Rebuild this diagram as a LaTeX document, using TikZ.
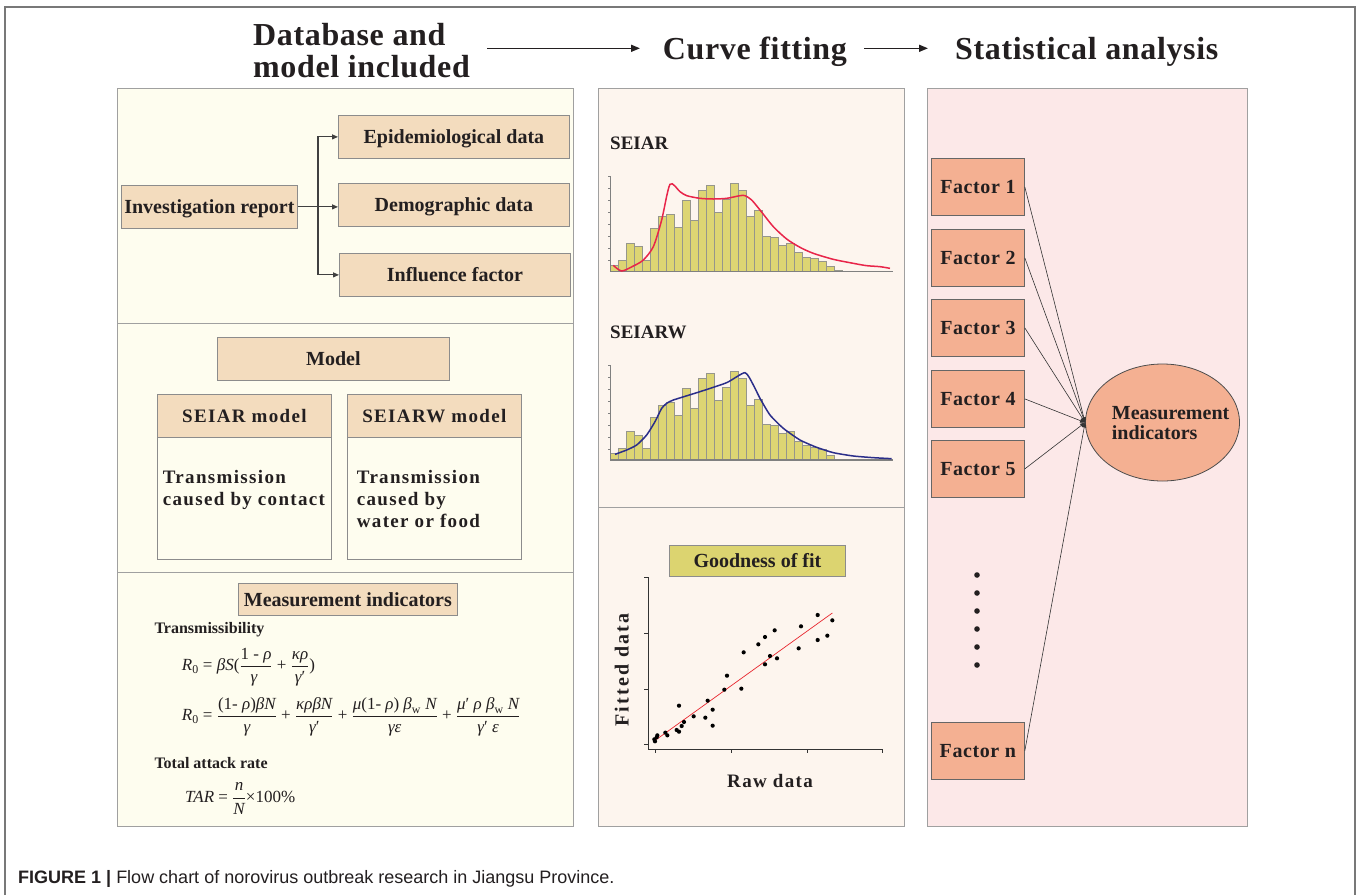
\documentclass[tikz,border=0pt]{standalone}
\usepackage{amsmath}
\usepackage{fontspec}
\setmainfont{Liberation Serif}
\newfontfamily\capfont{Liberation Sans}
\newfontfamily\ttlfont[LetterSpace=2]{Liberation Serif}
\newfontfamily\spfont[LetterSpace=7]{Liberation Serif}
\newfontfamily\fitfont[LetterSpace=11]{Liberation Serif}
\newfontfamily\fctfont[LetterSpace=3]{Liberation Serif}
\usetikzlibrary{arrows.meta,shapes.geometric}
\definecolor{txt}{RGB}{35,31,32}
\definecolor{framegray}{RGB}{120,120,120}
\definecolor{panelgray}{RGB}{160,160,160}
\definecolor{boxgray}{RGB}{140,140,140}
\definecolor{pone}{RGB}{254,253,239}
\definecolor{ptwo}{RGB}{253,245,238}
\definecolor{pthree}{RGB}{252,232,232}
\definecolor{peach}{RGB}{243,220,190}
\definecolor{factor}{RGB}{244,176,146}
\definecolor{good}{RGB}{220,212,112}
\definecolor{barfill}{RGB}{221,213,115}
\definecolor{barline}{RGB}{150,150,140}
\definecolor{curvered}{RGB}{232,37,74}
\definecolor{curveblue}{RGB}{43,46,138}
\definecolor{fitred}{RGB}{232,38,46}
\newcommand\myit[1]{\text{\itshape #1}}
\newcommand\myup[1]{\text{\upshape #1}}
\begin{document}
\begin{tikzpicture}[x=1pt,y=-1pt,
  panel/.style={draw=panelgray, line width=1pt},
  bx/.style={draw=boxgray, fill=peach, line width=0.8pt, inner sep=0pt, text=txt,
    anchor=north west, text height=13.2pt, text depth=0pt, font=\fontsize{20}{24}\selectfont\bfseries},
  bodybx/.style={draw=boxgray, fill=pone, line width=0.8pt, inner sep=0pt, anchor=north west},
  fbx/.style={draw=black!60, fill=factor, line width=0.8pt, inner sep=0pt, text=txt,
    anchor=north west, minimum width=93pt, minimum height=57pt, text height=13.2pt, text depth=0pt,
    font=\fctfont\fontsize{20}{24}\selectfont\bfseries},
  ttl/.style={inner sep=0pt, text=txt, font=\ttlfont\fontsize{32}{32}\selectfont\bfseries},
  tarr/.style={-{Triangle[length=9pt,width=7pt]}, line width=1.5pt, draw=txt},
  sarr/.style={-{Triangle[length=6pt,width=5pt]}, line width=1.1pt, draw=black!75},
  farr/.style={-{Triangle[length=5pt,width=4pt]}, line width=0.6pt, draw=black!80},
  lbl/.style={inner sep=0pt, text=txt},
  frm/.style={inner sep=0pt, text=txt, anchor=base west, font=\fontsize{17}{20}\selectfont},
  bar/.style={fill=barfill, draw=barline, line width=0.6pt},
  hax/.style={draw=black!50, line width=1.1pt},
  sax/.style={draw=black!80, line width=1pt}
]
\useasboundingbox (0,0) rectangle (1358,895);
\fill[white] (0,0) rectangle (1358,895);
% outer frame
\draw[framegray, line width=1.5pt] (5,895) -- (5,7) -- (1355,7) -- (1355,895);

% titles
\node[ttl, anchor=north west, align=left] (db) at (253,23) {Database and\\[0pt]model included};
\node[ttl, anchor=base west] (cf) at (662.7,59.3) {Curve fitting};
\node[ttl, anchor=base west] (sa) at (955,59.3) {Statistical analysis};
\coordinate (ay) at (0,48.3);
\draw[tarr, shorten <=17pt, shorten >=22.7pt] (db.east |- ay) -- (cf.west |- ay);
\draw[tarr, shorten <=17pt, shorten >=27pt] (cf.east |- ay) -- (sa.west |- ay);

% panels
\filldraw[panel, fill=pone] (117,88) rectangle (573,826);
\draw[panel] (117,323) -- (573,323);
\draw[panel] (117,572) -- (573,572);
\filldraw[panel, fill=ptwo] (598,88) rectangle (904,826);
\draw[panel] (598,507) -- (904,507);
\filldraw[panel, fill=pthree] (927,88) rectangle (1247,826);

% panel 1, section 1
\node[bx, minimum width=176pt, minimum height=43pt] (inv) at (121,185) {Investigation report};
\node[bx, minimum width=231pt, minimum height=43pt] (epi) at (338,115) {Epidemiological data};
\node[bx, minimum width=231pt, minimum height=43pt] (dem) at (338,183) {Demographic data};
\node[bx, minimum width=231pt, minimum height=43pt] (inf) at (339,253) {Influence factor};
\coordinate (jn) at (318,206.5);
\draw[sarr] (inv.east) -- (inv.east -| dem.west);
\draw[sarr] (jn) |- (epi.west);
\draw[sarr] (jn) |- (inf.west);

% panel 1, section 2
\node[bx, minimum width=232pt, minimum height=43pt] (model) at (217,337) {Model};
\node[bodybx, minimum width=174pt, minimum height=122pt] (b1) at (157,437) {};
\node[bodybx, minimum width=174pt, minimum height=122pt] (b2) at (347,437) {};
\node[bx, minimum width=174pt, minimum height=43pt, text height=12.6pt, font=\spfont\fontsize{19}{22}\selectfont\bfseries] (seiar) at (157,394) {SEIAR model};
\node[bx, minimum width=174pt, minimum height=43pt, text height=12.6pt, font=\spfont\fontsize{19}{22}\selectfont\bfseries] (seiarw) at (347,394) {SEIARW model};
\node[lbl, anchor=north west, align=left, font=\spfont\fontsize{19}{22}\selectfont\bfseries] (t1) at (162.7,470.3) {Transmission\\caused by contact};
\node[lbl, anchor=north west, align=left, font=\spfont\fontsize{19}{22}\selectfont\bfseries] (t2) at (356.7,470.3) {Transmission\\caused by\\water or food};

% panel 1, section 3
\node[bx, minimum width=219pt, minimum height=32pt] (mi) at (238,583.3) {Measurement indicators};
\node[lbl, anchor=base west, font=\fontsize{16}{19}\selectfont\bfseries] (trans) at (154.3,633.3) {Transmissibility};
\node[frm] (f1) at (181.7,670.7) {$\displaystyle \myit{R}_{\myup{0}}\myup{ = }\myit{βS}\myup{(}\frac{\myup{1 - }\myit{ρ}}{\myit{γ}\myup{ }}\myup{ + }\frac{\myit{κρ}}{\myit{γ}\myup{′}}\myup{)}$};
\node[frm] (f2) at (181.7,720.7) {$\displaystyle \myit{R}_{\myup{0}}\myup{ = }\frac{\myup{(1- }\myit{ρ}\myup{)}\myit{βN}}{\myit{γ}}\myup{ + }\frac{\myit{κρβN}}{\myit{γ}\myup{′}}\myup{ + }\frac{\myit{μ}\myup{(1- }\myit{ρ}\myup{) }\myit{β}_{\myup{w}}\myup{ }\myit{N}}{\myit{γε}}\myup{ + }\frac{\myit{μ}\myup{′ }\myit{ρ }\myit{β}_{\myup{w}}\myup{ }\myit{N}}{\myit{γ}\myup{′ }\myit{ε}}$};
\node[lbl, anchor=base west, font=\fontsize{16}{19}\selectfont\bfseries] (tar) at (154.3,768.3) {Total attack rate};
\node[frm] (f3) at (185,802.3) {$\displaystyle \myit{TAR}\myup{ = }\frac{\myit{n}}{\myit{N}}\myup{×100\%}$};

% panel 2: SEIAR histogram
\node[lbl, anchor=base west, font=\fontsize{19}{22}\selectfont\bfseries] (lseiar) at (610,149) {SEIAR};
\begin{scope}[shift={(600,160)}, x=0.33333pt, y=-0.33333pt]
  \foreach \t [count=\i from 0] in {316,300,249,260,300,206,170,163,202,120,181,91,76,156,117,70,91,170,152,228,232,256,249,278,292,296,303,320,332,333,333}
    \filldraw[bar] ({32+24*\i},335) rectangle ({56+24*\i},\t);
  \draw[hax] (32,48) -- (32,335) -- (878,335);
  \foreach \yy in {48,84,120,156,192,228,264,300} \draw[black!50, line width=0.6pt] (25,\yy) -- (32,\yy);
  \draw[curvered, line width=1.5pt] plot[smooth, tension=0.45] coordinates {(40,316) (65,333) (100,318) (130,300) (160,260) (185,180) (210,73) (240,95) (260,107) (300,115) (340,117) (380,115) (420,107) (435,107) (455,120) (480,150) (520,200) (560,237) (600,262) (640,280) (700,298) (760,310) (800,317) (840,320) (870,325)};
\end{scope}

% panel 2: SEIARW histogram
\node[lbl, anchor=base west, font=\fontsize{19}{22}\selectfont\bfseries] (lseiarw) at (610,338) {SEIARW};
\begin{scope}[shift={(600,348.33)}, x=0.33333pt, y=-0.33333pt]
  \foreach \t [count=\i from 0] in {316,300,249,260,300,206,170,163,202,120,181,91,76,156,117,70,91,170,152,228,232,256,249,278,292,296,303,320,332,333,333}
    \filldraw[bar] ({32+24*\i},335) rectangle ({56+24*\i},\t);
  \draw[hax] (32,50) -- (32,335) -- (878,335);
  \foreach \yy in {50,86,122,158,194,230,266,302} \draw[black!50, line width=0.6pt] (25,\yy) -- (32,\yy);
  \draw[curveblue, line width=1.5pt] plot[smooth, tension=0.35] coordinates {(45,318) (80,305) (110,290) (140,260) (165,220) (185,180) (200,165) (220,155) (300,130) (380,103) (435,73) (460,110) (480,150) (510,200) (550,240) (600,275) (650,297) (700,313) (760,323) (820,328) (875,331)};
\end{scope}

% panel 2: goodness of fit
\node[bx, fill=good, minimum width=176pt, minimum height=31.5pt] (gof) at (669,544.7) {Goodness of fit};
\begin{scope}[shift={(600,540)}, x=0.33333pt, y=-0.33333pt]
  \draw[sax] (145,112) -- (145,627) -- (848,627);
  \foreach \yy in {112,280,447,612} \draw[sax] (133,\yy) -- (145,\yy);
  \foreach \xx in {165,393,621,848} \draw[sax] (\xx,627) -- (\xx,639);
  \draw[fitred, line width=0.7pt] (160,605) -- (697,219);
  \foreach \px/\py in {165/604,163/598,170/592,172/586,196/578,202/586,230/570,237/575,237/497,245/558,252/546,281/529,316/533,323/482,338/509,338/557,373/449,381/407,424/446,431/337,475/313,495/291,495/373,510/348,524/271,531/355,596/325,603/259,653/225,653/300,682/287,697/241}
    \fill[black] (\px,\py) circle[radius=2.1pt];
\end{scope}
\node[lbl, rotate=90, font=\fitfont\fontsize{20}{24}\selectfont\bfseries] (fd) at (621.7,670) {Fitted data};
\node[lbl, font=\spfont\fontsize{19}{22}\selectfont\bfseries] (rd) at (770,781) {Raw data};

% panel 3
\node[fbx] (fa1) at (931,158) {Factor 1};
\node[fbx] (fa2) at (931,229) {Factor 2};
\node[fbx] (fa3) at (931,299) {Factor 3};
\node[fbx] (fa4) at (931,370) {Factor 4};
\node[fbx] (fa5) at (931,440) {Factor 5};
\node[fbx] (fan) at (931,722) {Factor n};
\node[ellipse, draw=black!70, fill=factor, line width=0.8pt, minimum width=154pt, minimum height=117pt,
  inner sep=0pt] (ell) at (1162.5,422.5) {};
\node[lbl, anchor=west, align=left, font=\fontsize{20}{20.5}\selectfont\bfseries] (elltxt) at (1111.7,423) {Measurement\\indicators};
\foreach \f in {fa1,fa2,fa3,fa4,fa5,fan} \draw[farr] (\f.east) -- (ell.west);
\foreach \k in {0,...,5} \fill[txt] (977,575+18*\k) circle[radius=2.8pt];

% caption
\node[lbl, anchor=base west, font=\capfont\fontsize{18}{20}\selectfont] (cap) at (18,883.3) {\textbf{FIGURE 1 |} Flow chart of norovirus outbreak research in Jiangsu Province.};
\end{tikzpicture}
\end{document}
